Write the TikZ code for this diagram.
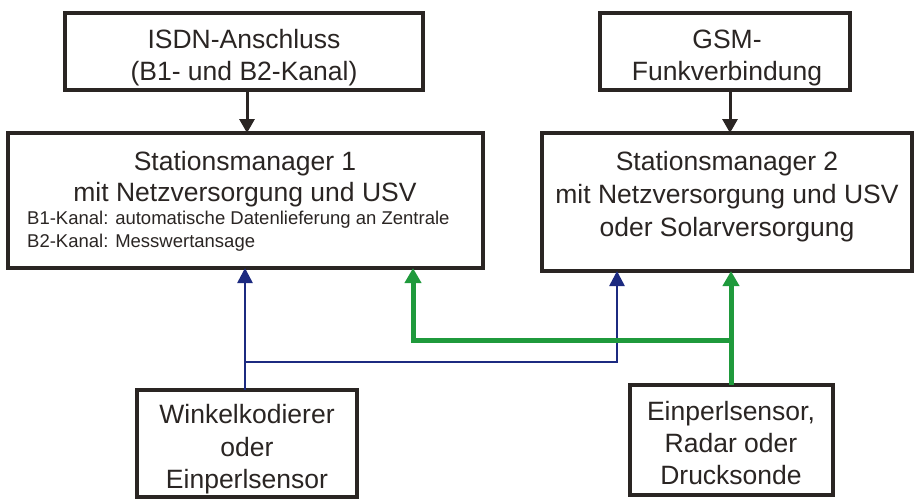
\documentclass[tikz,border=0pt]{standalone}
\usepackage{fontspec}
\setmainfont{Liberation Sans}
\usetikzlibrary{arrows.meta}
\definecolor{ink}{HTML}{2A2523}
\definecolor{navy}{HTML}{1C2A80}
\definecolor{grn}{HTML}{1F9A3C}
\tikzset{
  box/.style={draw=ink, line width=4pt, fill=white, inner sep=0pt, outer sep=0pt},
  big/.style={inner sep=0pt, anchor=base, text=ink, font=\fontsize{26.5}{31}\selectfont},
  small/.style={inner sep=0pt, anchor=base west, text=ink, font=\fontsize{18.5}{22}\selectfont},
  blk/.style={draw=ink, line width=3pt, -{Triangle[width=15pt,length=14pt]}},
  bl/.style={draw=navy, line width=2.6pt, -{Triangle[width=15pt,length=15pt]}},
  gr/.style={draw=grn, line width=5pt, -{Triangle[width=16pt,length=15pt]}},
}
\begin{document}
\begin{tikzpicture}[x=1pt,y=-1pt]
\useasboundingbox (0,0) rectangle (915,499);
% boxes
\node[box, minimum width=358pt, minimum height=77pt] (isdn) at (244,51.5) {};
\node[box, minimum width=250pt, minimum height=77pt] (gsm) at (725,51.5) {};
\node[box, minimum width=475pt, minimum height=135pt] (sm1) at (245.5,200.5) {};
\node[box, minimum width=370pt, minimum height=138pt] (sm2) at (727,202) {};
\node[box, minimum width=220pt, minimum height=107pt] (wk) at (247,443.5) {};
\node[box, minimum width=203pt, minimum height=110pt] (ep) at (731.5,440) {};
% texts
\node[big] (t1) at (244,48) {ISDN-Anschluss};
\node[big] (t2) at (244,80) {(B1- und B2-Kanal)};
\node[big] (t3) at (727,48) {GSM-};
\node[big] (t4) at (727,80) {Funkverbindung};
\node[big] (t5) at (245,170) {Stationsmanager 1};
\node[big] (t6) at (245,201) {mit Netzversorgung und USV};
\node[small] (t7) at (27,224) {B1-Kanal: automatische Datenlieferung an Zentrale};
\node[small] (t8) at (27,247) {B2-Kanal: Messwertansage};
\node[big] (t9) at (727,170) {Stationsmanager 2};
\node[big] (t10) at (727,203) {mit Netzversorgung und USV};
\node[big] (t11) at (727,236) {oder Solarversorgung};
\node[big] (t12) at (247,423) {Winkelkodierer};
\node[big] (t13) at (247,456) {oder};
\node[big] (t14) at (247,488) {Einperlsensor};
\node[big] (t15) at (731,420) {Einperlsensor,};
\node[big] (t16) at (731,452) {Radar oder};
\node[big] (t17) at (731,484) {Drucksonde};
% connection points
\coordinate (bj) at (245,362);
\coordinate (bk) at (617,362);
\coordinate (gj) at (731,340);
\coordinate (gk) at (413,340);
% black arrows
\draw[blk] (isdn.south -| 247,0) -- (sm1.north -| 247,0);
\draw[blk] (gsm.south -| 730,0) -- (sm2.north -| 730,0);
% blue
\draw[bl] (wk.north -| 245,0) -- (sm1.south -| 245,0);
\draw[bl, line join=miter] (bj) -- (bk) -- (sm2.south -| bk);
% green
\draw[gr, line join=miter] (gj) -- (gk) -- (sm1.south -| gk);
\draw[gr] (ep.north -| 731,0) -- (sm2.south -| 731,0);
\end{tikzpicture}
\end{document}
